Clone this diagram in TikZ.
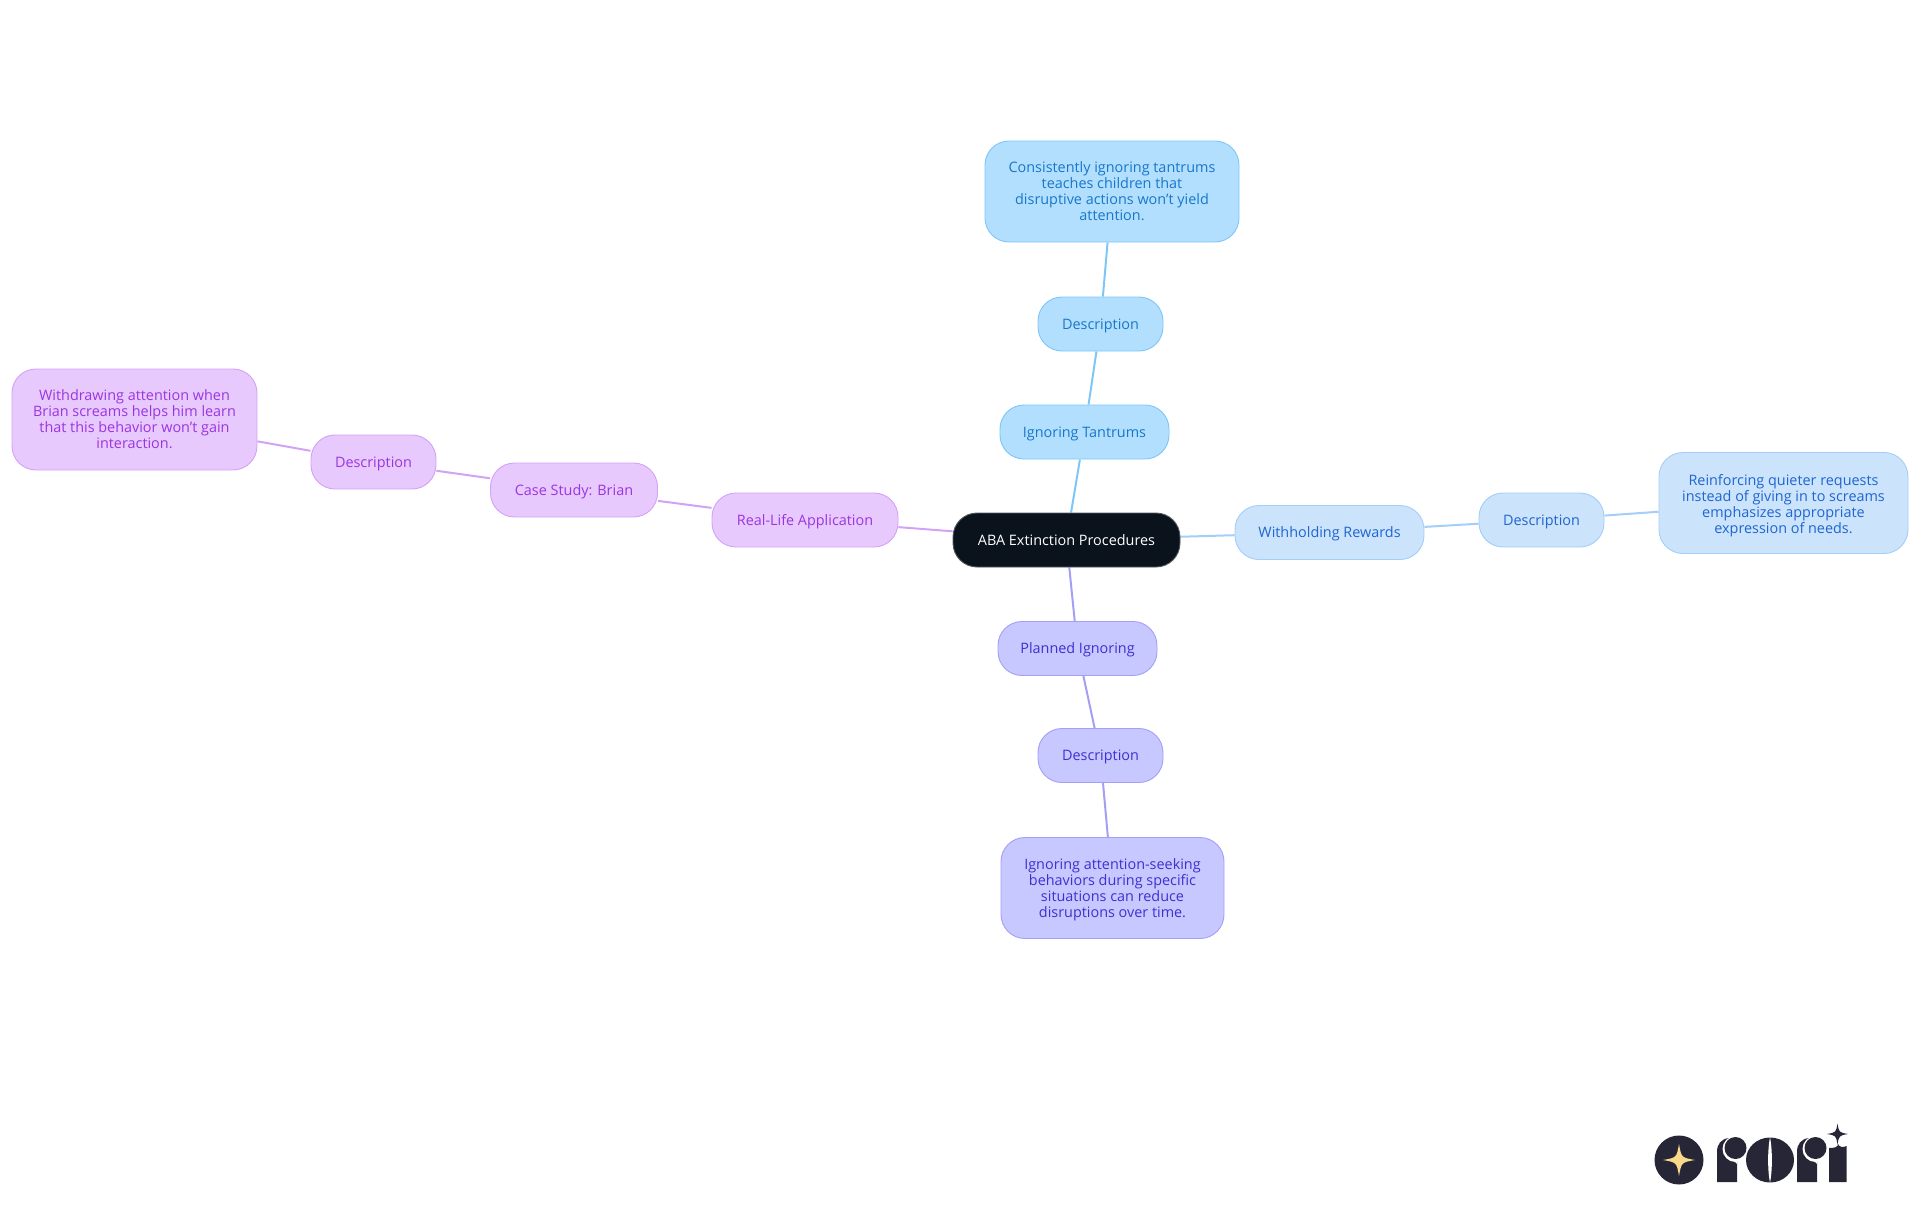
\documentclass[tikz,border=0pt]{standalone}
\usepackage{fontspec}
\setmainfont{Open Sans}
\usetikzlibrary{backgrounds}
\definecolor{blueF}{HTML}{B3DFFF}\definecolor{blueD}{HTML}{7FC6F7}\definecolor{blueT}{HTML}{1777C9}
\definecolor{paleF}{HTML}{CCE3FC}\definecolor{paleD}{HTML}{A3CEF8}\definecolor{paleT}{HTML}{1E66D0}
\definecolor{violF}{HTML}{C7C8FF}\definecolor{violD}{HTML}{A39FF5}\definecolor{violT}{HTML}{3F30D0}
\definecolor{purpF}{HTML}{E8C9FE}\definecolor{purpD}{HTML}{D2A2F6}\definecolor{purpT}{HTML}{9A35E0}
\definecolor{logoD}{HTML}{272636}\definecolor{logoS}{HTML}{FBD98A}
\definecolor{rootF}{HTML}{0A121C}
\tikzset{
  x=1pt,y=-1pt,
  base/.style={rounded corners=24pt,line width=0.9pt,inner sep=0pt,align=center,
    font=\fontsize{14.4}{16}\selectfont},
  bluebox/.style={base,fill=blueF,draw=blueD,text=blueT},
  palebox/.style={base,fill=paleF,draw=paleD,text=paleT},
  violbox/.style={base,fill=violF,draw=violD,text=violT},
  purpbox/.style={base,fill=purpF,draw=purpD,text=purpT},
  rootbox/.style={base,fill=rootF,draw=rootF!70!white,text=white},
  dropped/.style={execute at begin node={\rule{0pt}{14pt}}},
  blueline/.style={draw=blueD,line width=2pt},
  paleline/.style={draw=paleD,line width=2pt},
  violline/.style={draw=violD,line width=2pt},
  purpline/.style={draw=purpD,line width=2pt},
  sized/.style 2 args={minimum width=#1pt,minimum height=#2pt},
}
\newcommand{\fourstar}[4]{% x y radius colour
  \fill[#4] (#1-#3,#2) .. controls (#1-0.15*#3,#2-0.15*#3) .. (#1,#2-#3)
    .. controls (#1+0.15*#3,#2-0.15*#3) .. (#1+#3,#2)
    .. controls (#1+0.15*#3,#2+0.15*#3) .. (#1,#2+#3)
    .. controls (#1-0.15*#3,#2+0.15*#3) .. cycle;}
\newcommand{\letterr}[1]{% x of left edge
  \fill[logoD] (#1,1182) -- (#1,1152) .. controls (#1,1144) and (#1+4,1139) .. (#1+12,1138)
    -- (#1+20,1150) -- (#1+20,1182) -- cycle;
  \fill[white] (#1+18.5,1149) circle[radius=13];
  \fill[white] (#1+20,1150) -- (#1+20,1164) -- (#1+16,1160) -- cycle;
  \fill[logoD] (#1+18.5,1148) circle[radius=11];}
\begin{document}
\begin{tikzpicture}
\useasboundingbox (0,0) rectangle (1920,1215);
\node[rootbox,sized={227}{54}] (root) at (1066.5,540) {ABA Extinction Procedures};
\node[bluebox,dropped,sized={169}{54}] (it) at (1084.5,432) {Ignoring Tantrums};
\node[bluebox,dropped,sized={125}{54}] (itd) at (1100.5,324) {Description};
\node[bluebox,sized={254}{101}] (itt) at (1112,191.5) {Consistently ignoring tantrums\\teaches children that\\disruptive actions won't yield\\attention.};
\node[palebox,dropped,sized={189}{54}] (wr) at (1329.5,532.5) {Withholding Rewards};
\node[palebox,dropped,sized={125}{54}] (wrd) at (1541.5,520) {Description};
\node[palebox,sized={249}{101}] (wrt) at (1783.5,503) {\rule{0pt}{17pt}Reinforcing quieter requests\\instead of giving in to screams\\emphasizes appropriate\\expression of needs.};
\node[violbox,dropped,sized={159}{54}] (pi) at (1077.5,648.5) {Planned Ignoring};
\node[violbox,dropped,sized={125}{54}] (pid) at (1100.5,755.5) {Description};
\node[violbox,sized={223}{101}] (pit) at (1112.5,888) {\rule{0pt}{14pt}Ignoring attention-seeking\\behaviors during specific\\situations can reduce\\disruptions over time.};
\node[purpbox,dropped,sized={186}{54}] (rl) at (805,520) {Real-Life Application};
\node[purpbox,dropped,sized={167}{54}] (cs) at (574,490) {Case Study: Brian};
\node[purpbox,dropped,sized={125}{54}] (csd) at (373.5,462) {Description};
\node[purpbox,sized={245}{101}] (cst) at (134.5,419.5) {Withdrawing attention when\\Brian screams helps him learn\\that this behavior won't gain\\interaction.};
\begin{scope}[on background layer]
  \draw[blueline] (root) -- (it);
  \draw[blueline] (it) -- (itd);
  \draw[blueline] (itd) -- (itt);
  \draw[paleline] (root) -- (wr);
  \draw[paleline] (wr) -- (wrd);
  \draw[paleline] (wrd) -- (wrt);
  \draw[violline] (root) -- (pi);
  \draw[violline] (pi) -- (pid);
  \draw[violline] (pid) -- (pit);
  \draw[purpline] (root) -- (rl);
  \draw[purpline] (rl) -- (cs);
  \draw[purpline] (cs) -- (csd);
  \draw[purpline] (csd) -- (cst);
\end{scope}
% logo
\fill[logoD] (1679,1160) circle[radius=24.5];
\fourstar{1679}{1160}{16}{logoS}
\letterr{1717}
\fill[logoD] (1770,1160) ellipse[x radius=24,y radius=22.5];
\fill[white] (1770,1137) .. controls (1767.5,1150) and (1767.5,1170) .. (1770,1183)
  .. controls (1772.5,1170) and (1772.5,1150) .. (1770,1137) -- cycle;
\letterr{1797}
\fill[logoD] (1829,1182) -- (1829,1148) .. controls (1835,1148) and (1838,1147) .. (1838,1144)
  .. controls (1839,1147) and (1843,1148) .. (1846.5,1146) -- (1846.5,1182) -- cycle;
\fourstar{1837.5}{1134}{10.5}{logoD}
\end{tikzpicture}
\end{document}
